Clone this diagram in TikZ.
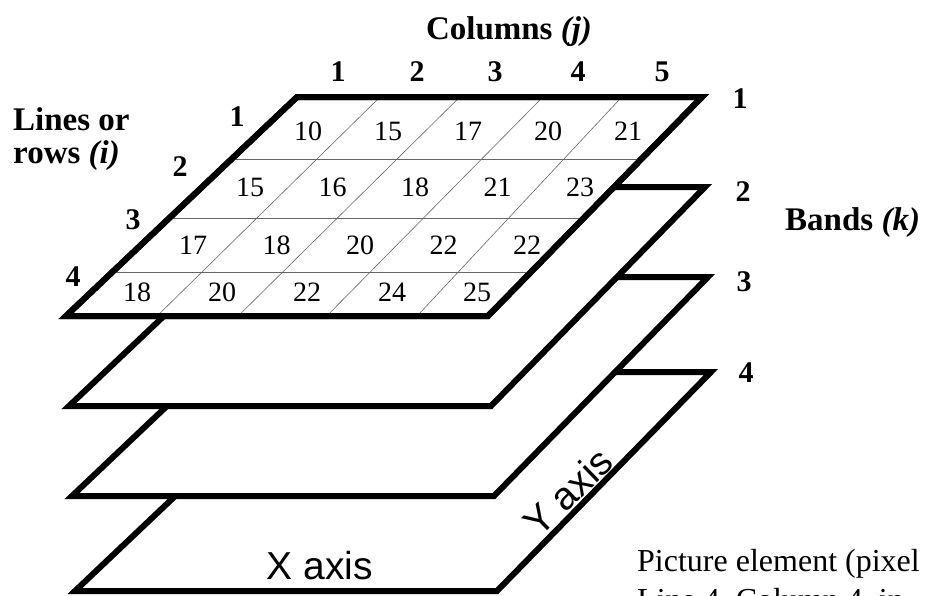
\documentclass[tikz,border=0pt]{standalone}
\usepackage{fontspec}
\setmainfont{Liberation Serif}
\newfontfamily\axisfont{Liberation Sans}
\usetikzlibrary{calc}

\begin{document}
\begin{tikzpicture}[x=1pt, y=-1pt,
    layer/.style={draw=black, line width=6pt, fill=white},
    gridline/.style={draw=black!60, line width=0.6pt},
    cell/.style={font=\fontsize{28}{30}\selectfont, inner sep=0pt},
    lbl/.style={font=\fontsize{30}{32}\selectfont\bfseries, inner sep=0pt},
    heading/.style={font=\fontsize{33}{33}\selectfont\bfseries, inner sep=0pt},
    axislabel/.style={font=\axisfont\fontsize{39}{40}\selectfont, inner sep=0pt}]
  \useasboundingbox (0,0) rectangle (932,595);

  \foreach \dx/\dy in {9/275, 6/180, 3/90, 0/0}
    \draw[layer, shift={(\dx,\dy)}] (297,97) -- (702,97) -- (488,316) -- (66,316) -- cycle;

  \coordinate (tl) at (297,97);
  \coordinate (tr) at (702,97);
  \coordinate (br) at (488,316);
  \coordinate (bl) at (66,316);
  \foreach \v in {0.283, 0.553, 0.799}
    \draw[gridline] ($(tl)!\v!(bl)$) -- ($(tr)!\v!(br)$);
  \foreach \u/\w in {0.205/0.216, 0.402/0.408, 0.607/0.618, 0.802/0.832}
    \draw[gridline] ($(tl)!\u!(tr)$) -- ($(bl)!\w!(br)$);
  \draw[line width=6pt] (tl) -- (tr) -- (br) -- (bl) -- cycle;

  \foreach \yy/\xx/\dd/\vals [count=\r] in {131/308/80/{10,15,17,20,21},
      187/250/82.5/{15,16,18,21,23}, 245/193/83.5/{17,18,20,22,22},
      292/137/85/{18,20,22,24,25}}
    \foreach \v [count=\c] in \vals
      \node[cell] (p\r\c) at ({\xx+\dd*(\c-1)},\yy) {\v};

  \foreach \xx [count=\j] in {338,417,495,578,662}
    \node[lbl] (col\j) at (\xx,72) {\j};
  \foreach \xx/\yy [count=\i] in {237/117, 180/167, 133/220, 73/277}
    \node[lbl] (row\i) at (\xx,\yy) {\i};
  \foreach \xx/\yy [count=\k] in {740/99, 743/192, 744/282, 746/373}
    \node[lbl] (band\k) at (\xx,\yy) {\k};

  \node[heading, anchor=base] (columns) at (509,39) {Columns \textit{(j)}};
  \node[heading, anchor=north west, align=left] (rows) at (13,107) {Lines or\\rows \textit{(i)}};
  \node[heading, anchor=base west] (bands) at (785,230) {Bands \textit{(k)}};

  \node[axislabel] (xaxis) at (320,566) {X axis};
  \node[axislabel, rotate=44] (yaxis) at (568,492) {Y axis};

  \node[anchor=north west, align=left, inner sep=0pt,
        font=\fontsize{32}{39}\selectfont] (pixel) at (637,549)
        {Picture element (pixel\\Line 4, Column 4, in};
\end{tikzpicture}
\end{document}
